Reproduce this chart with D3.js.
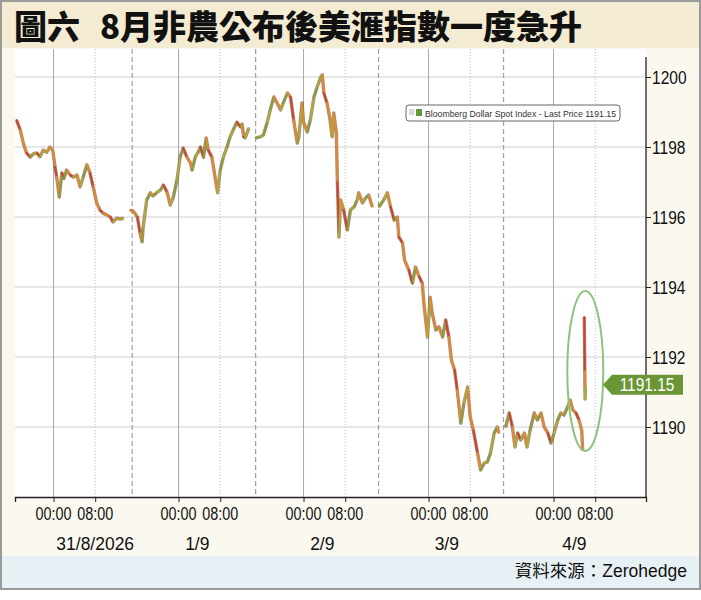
<!DOCTYPE html>
<html><head><meta charset="utf-8">
<script src="https://cdn.jsdelivr.net/npm/d3@7"></script>
<style>body{margin:0;background:#fff} svg{display:block}</style>
</head><body>
<svg id="c" width="701" height="600"></svg>
<script>
// ---------- data ----------
const titleLead = "圖六";
const titleMain = "8月非農公布後美滙指數一度急升";
const sourceText = "資料來源：Zerohedge";
const legendText = "Bloomberg Dollar Spot Index - Last Price 1191.15";
const lastPrice = 1191.15;
const baseDate = new Date(2026, 7, 31, 0, 0); // 31/8/2026 00:00
// hours since 31/8 00:00
const hours = [
 -7.1,-6.4,-5.8,-5.2,-4.5,-3.9,-3.2,-2.6,-2.0,-1.3,-0.7,-0.15,0.3,0.6,1.1,1.6,2.0,2.5,3.2,3.8,4.5,5.1,5.7,6.4,7.0,7.6,8.3,8.9,9.5,10.2,10.9,11.4,12.2,12.8,13.4,
 14.0,
 14.7,15.3,16.1,16.6,17.0,17.2,17.9,18.6,19.1,19.9,20.5,21.1,21.8,22.4,23.0,23.7,
 24.3,24.9,25.6,26.3,26.6,27.2,27.8,28.2,28.8,29.3,29.7,30.4,31.1,31.5,32.0,32.6,33.3,33.9,34.5,35.2,35.9,36.2,36.5,36.8,37.5,
 38.2,
 38.8,39.7,40.3,41.0,41.6,42.3,42.9,43.6,44.1,44.9,45.5,46.1,46.8,47.1,47.7,
 48.0,48.7,49.3,50.0,50.6,51.3,51.6,51.9,52.5,53.0,53.5,53.8,54.3,54.5,54.8,55.1,55.7,56.4,57.0,57.7,58.3,58.6,59.3,59.9,60.5,61.2,
 61.9,
 62.5,63.4,64.1,64.7,65.4,66.0,66.3,67.0,67.4,68.2,68.9,69.5,70.2,70.8,71.1,71.8,
 72.3,72.7,73.4,74.0,74.7,75.3,75.9,76.4,77.0,77.5,78.2,78.8,79.5,80.0,80.6,81.4,82.0,82.7,83.3,83.9,84.6,85.2,85.5,
 86.2,
 86.8,87.5,88.1,88.6,89.1,89.7,90.4,90.9,91.5,92.3,92.9,93.6,94.2,94.9,95.5,96.1,96.8,97.4,98.0,98.7,99.2,99.7,100.3,100.9,101.4,101.6,
 101.8,
 101.9,102.0,102.05,102.1
];
const prices = [
 1198.77,1198.49,1198.11,1197.83,1197.71,1197.8,1197.83,1197.72,1197.91,1197.85,1198.0,1197.9,1197.43,1197.14,1196.57,1197.26,1197.1,1197.34,1197.2,1197.14,1197.2,1196.86,1197.14,1197.49,1197.26,1196.86,1196.4,1196.2,1196.11,1196.06,1196.0,1195.86,1195.97,1195.94,1195.97,
 null,
 1196.2,1196.17,1196.0,1195.54,1195.29,1195.71,1196.49,1196.69,1196.6,1196.71,1196.77,1196.91,1196.71,1196.34,1196.57,1197.06,
 1197.71,1197.97,1197.71,1197.54,1197.34,1197.71,1197.86,1198.0,1197.71,1198.26,1197.91,1197.71,1197.06,1196.69,1197.34,1197.71,1198.0,1198.29,1198.49,1198.71,1198.57,1198.66,1198.29,1198.26,1198.54,
 null,
 1198.26,1198.29,1198.34,1198.69,1199.06,1199.43,1199.26,1199.06,1199.26,1199.54,1199.43,1198.77,1198.11,1198.29,1199.26,
 1198.71,1198.43,1198.77,1199.43,1199.71,1200.0,1200.06,1199.54,1199.26,1198.86,1198.29,1198.97,1198.4,1197.0,1195.43,1196.49,1196.2,1195.63,1196.2,1196.29,1196.49,1196.69,1196.4,1196.54,1196.63,1196.29,
 null,
 1196.29,1196.49,1196.69,1196.29,1195.91,1196.0,1195.43,1195.26,1194.77,1194.49,1194.11,1194.57,1194.29,1194.11,1193.54,1192.57,
 1193.71,1193.26,1192.77,1192.86,1192.57,1193.06,1192.57,1191.91,1191.63,1191.06,1190.11,1190.69,1191.14,1190.29,1189.91,1189.26,1188.77,1188.97,1189.0,1189.26,1189.83,1190.0,1189.83,
 null,
 1190.0,1190.4,1190.0,1189.43,1189.83,1189.63,1189.83,1189.43,1189.91,1190.4,1190.2,1190.4,1190.0,1189.83,1189.54,1189.83,1190.2,1190.4,1190.34,1190.57,1190.77,1190.49,1190.4,1190.2,1189.91,1189.34,
 null,
 1193.14,1191.6,1190.8,1191.15
];
const yTicks = [1190, 1192, 1194, 1196, 1198, 1200];
const dayHours = [0, 24, 48, 72, 96];          // 00:00 of each day
const eightHours = [8, 32, 56, 80, 104];       // 08:00 of each day
const sessionStarts = [15.1, 38.8, 62.4, 86.4]; // dashed session lines
const dateLabels = ["31/8/2026", "1/9", "2/9", "3/9", "4/9"];
const dateLabelHours = [8, 27.6, 51.6, 75.5, 100];

// ---------- layout ----------
const svg = d3.select("#c");
const W = 701, H = 590;
const plot = {l: 15, r: 646, t: 49, b: 497};
const toDate = h => new Date(baseDate.getTime() + h * 3600e3);
const x = d3.scaleTime().domain([toDate(-7.4), toDate(113.75)]).range([plot.l, plot.r]);
const y = d3.scaleLinear().domain([1190, 1200]).range([427, 77]);

// backgrounds
svg.append("rect").attr("x",0).attr("y",0).attr("width",W).attr("height",H).attr("fill","#fbf8f0");
svg.append("rect").attr("x",0).attr("y",0).attr("width",W).attr("height",48).attr("fill","#f4ecd2");
svg.append("rect").attr("x",0).attr("y",556).attr("width",W).attr("height",H-556).attr("fill","#e7f0f5");
svg.append("rect").attr("x",plot.l).attr("y",plot.t).attr("width",plot.r-plot.l).attr("height",plot.b-plot.t).attr("fill","#ffffff");

// title
const tt = svg.append("text").attr("y",39).attr("font-family","'Noto Sans CJK TC','Noto Sans CJK SC',sans-serif")
  .attr("font-weight",900).attr("font-size",33).attr("fill","#111");
tt.append("tspan").attr("x",14).text(titleLead);
tt.append("tspan").attr("x",100).text(titleMain);

// gridlines
const g = svg.append("g");
g.selectAll(".hg").data(yTicks).join("line")
  .attr("x1",plot.l).attr("x2",plot.r).attr("y1",d=>y(d)).attr("y2",d=>y(d))
  .attr("stroke","#cfcfcf").attr("stroke-width",1);
g.selectAll(".vd").data(dayHours).join("line")
  .attr("x1",d=>x(toDate(d))).attr("x2",d=>x(toDate(d))).attr("y1",plot.t).attr("y2",plot.b)
  .attr("stroke","#a9a9a9").attr("stroke-width",1);
g.selectAll(".v8").data(eightHours).join("line")
  .attr("x1",d=>x(toDate(d))).attr("x2",d=>x(toDate(d))).attr("y1",plot.t).attr("y2",plot.b)
  .attr("stroke","#bdbdbd").attr("stroke-width",1).attr("stroke-dasharray","1,2");
g.selectAll(".vs").data(sessionStarts).join("line")
  .attr("x1",d=>x(toDate(d))).attr("x2",d=>x(toDate(d))).attr("y1",plot.t).attr("y2",plot.b)
  .attr("stroke","#a0a0a0").attr("stroke-width",1.2).attr("stroke-dasharray","5,3");

// price series
const pts = hours.map((h,i)=>({t:toDate(h), v:prices[i]}));
const line = d3.line().defined(d=>d.v!=null).x(d=>x(d.t)).y(d=>y(d.v));
svg.append("path").datum(pts).attr("d",line).attr("fill","none")
  .attr("stroke","#7a3f28").attr("stroke-width",3.4).attr("stroke-opacity",0.6).attr("stroke-linejoin","round");
const segs = [];
for (let i=1;i<pts.length;i++){
  if (pts[i-1].v!=null && pts[i].v!=null) segs.push([pts[i-1], pts[i]]);
}
svg.append("g").selectAll("line").data(segs).join("line")
  .attr("x1",d=>x(d[0].t)).attr("y1",d=>y(d[0].v)).attr("x2",d=>x(d[1].t)).attr("y2",d=>y(d[1].v))
  .attr("stroke",(d,i)=> d[1].v>=d[0].v ? (i%2? "#a7ac3a":"#86a03a") : (i%3==0? "#c8442e":"#e08a30"))
  .attr("stroke-width",2).attr("stroke-linecap","round");

// axes
const yAxis = d3.axisRight(y).tickValues(yTicks).tickSize(5).tickFormat("");
const ya = svg.append("g").attr("transform",`translate(${plot.r},0)`).call(yAxis);
ya.select(".domain").remove();
ya.selectAll("line").attr("stroke","#222");
svg.append("line").attr("x1",plot.r).attr("x2",plot.r).attr("y1",57).attr("y2",plot.b).attr("stroke","#222").attr("stroke-width",1.3);
svg.append("g").selectAll("text").data(yTicks).join("text")
  .attr("transform",d=>`translate(652,${y(d)+7}) scale(0.84,1)`)
  .attr("font-family","'Liberation Sans',Arial,sans-serif").attr("font-size",18.5).attr("fill","#111")
  .text(d=>d);

const xTickHours = dayHours.concat(eightHours).sort((a,b)=>a-b);
const xAxis = d3.axisBottom(x).tickValues(xTickHours.map(toDate)).tickSize(5).tickFormat("");
const xa = svg.append("g").attr("transform",`translate(0,${plot.b})`).call(xAxis);
xa.select(".domain").attr("stroke","#222").attr("stroke-width",1.3);
xa.selectAll("line").attr("stroke","#222");
svg.append("g").selectAll("text").data(xTickHours).join("text")
  .attr("transform",d=>`translate(${x(toDate(d))},520) scale(0.8,1)`)
  .attr("text-anchor","middle").attr("font-family","'Liberation Sans',Arial,sans-serif")
  .attr("font-size",18).attr("fill","#111")
  .text(d=>d3.timeFormat("%H:%M")(toDate(d)));
svg.append("g").selectAll("text").data(dateLabels).join("text")
  .attr("transform",(d,i)=>`translate(${x(toDate(dateLabelHours[i]))},550) scale(0.92,1)`)
  .attr("text-anchor","middle").attr("font-family","'Liberation Sans',Arial,sans-serif")
  .attr("font-size",19).attr("fill","#111").text(d=>d);

// legend
svg.append("rect").attr("x",406).attr("y",105).attr("width",214).attr("height",16).attr("rx",3)
  .attr("fill","#fff").attr("stroke","#666").attr("stroke-width",1);
[0,1,2].forEach(k=>svg.append("line").attr("x1",409).attr("x2",414).attr("y1",110+k*2).attr("y2",110+k*2).attr("stroke","#999").attr("stroke-width",0.8));
svg.append("rect").attr("x",416).attr("y",109).attr("width",6).attr("height",7).attr("fill","#5e9b3a");
svg.append("text").attr("x",425).attr("y",116.5).attr("font-family","'Liberation Sans',Arial,sans-serif")
  .attr("font-size",9.5).attr("fill","#333").attr("textLength",191).attr("lengthAdjust","spacingAndGlyphs").text(legendText);

// highlight ellipse
const spikeT = toDate(101.9);
svg.append("ellipse").attr("cx",x(spikeT)+1).attr("cy",y(1191.6)).attr("rx",18).attr("ry",80)
  .attr("fill","none").attr("stroke","#8cc47c").attr("stroke-width",2);

// last price tag
const cy = y(lastPrice) - 2;
svg.append("path").attr("d",`M603,${cy} L612,${cy-10} L683,${cy-10} L683,${cy+10} L612,${cy+10} Z`).attr("fill","#6b9636");
svg.append("text").attr("transform",`translate(647,${cy+6.5}) scale(0.86,1)`).attr("text-anchor","middle")
  .attr("font-family","'Liberation Sans',Arial,sans-serif").attr("font-size",18).attr("fill","#fff").text(lastPrice.toFixed(2));

// source
svg.append("text").attr("x",687).attr("y",577).attr("text-anchor","end")
  .attr("font-family","'Liberation Sans','Noto Sans CJK TC',sans-serif").attr("font-size",17.5).attr("fill","#111").text(sourceText);

// frame
svg.append("rect").attr("x",1).attr("y",1).attr("width",W-2).attr("height",H-2).attr("fill","none").attr("stroke","#9a9a9a").attr("stroke-width",2);
</script>
</body></html>
